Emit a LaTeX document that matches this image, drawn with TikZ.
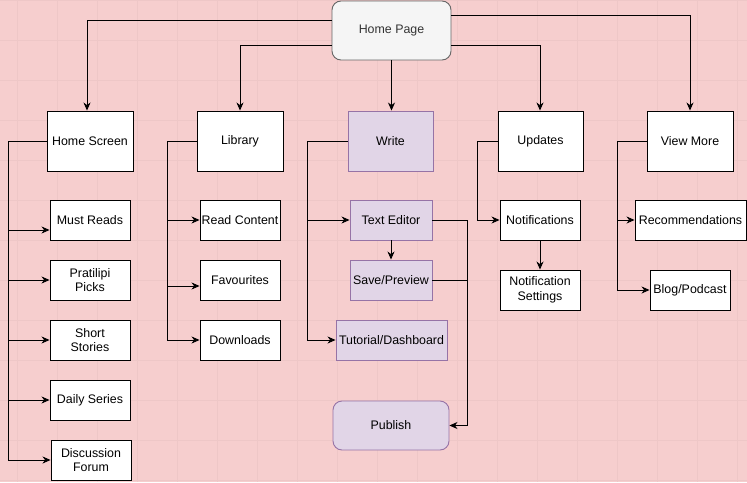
\documentclass[tikz,border=0pt]{standalone}
\usepackage{fontspec}
\setmainfont{Liberation Sans}
\usetikzlibrary{arrows.meta,calc}
\definecolor{bgpink}{RGB}{246,206,206}
\definecolor{gridpink}{RGB}{238,199,199}
\definecolor{hpfill}{HTML}{F5F5F5}
\definecolor{hpline}{HTML}{666666}
\definecolor{hptext}{HTML}{333333}
\definecolor{wfill}{HTML}{E1D5E7}
\definecolor{wline}{HTML}{9673A6}
\tikzset{
  box/.style={draw=black, fill=white, line width=0.9pt, inner sep=1pt, align=center,
    font=\fontsize{12.4}{14.5}\selectfont},
  wbox/.style={box, draw=wline, fill=wfill},
  arr/.style={draw=black, line width=0.9pt, -{Stealth[length=8pt,width=7pt,inset=2.5pt]}},
  ln/.style={draw=black, line width=0.9pt},
}
\newcommand{\bx}[6]{% name, x1, y1, x2, y2, style
  \node[#6, minimum width={(#4-#2)*1pt}, minimum height={(#5-#3)*1pt}] (#1) at ({(#2+#4)/2},{(#3+#5)/2})}
\begin{document}
\begin{tikzpicture}[x=1pt,y=-1pt]
\useasboundingbox (0,0) rectangle (747,482);
\fill[bgpink] (0,0) rectangle (747,482);
\foreach \gx in {17,57,...,737} \draw[gridpink, line width=1pt] (\gx,0) -- (\gx,482);
\foreach \gy in {0.5,40.5,...,480.5} \draw[gridpink, line width=1pt] (0,\gy) -- (747,\gy);

% top
\bx{hp}{332}{1}{451}{60}{box, draw=hpline, fill=hpfill, rounded corners=9pt, text=hptext}{Home Page};
% level 1
\bx{hs}{47}{111}{133}{171}{box}{Home Screen};
\bx{lib}{197}{111}{283}{171}{box}{Library};
\bx{wr}{348}{111}{433}{171}{wbox}{Write};
\bx{up}{498}{111}{583}{171}{box}{Updates};
\bx{vm}{647}{111}{733}{171}{box}{View More};
% home screen children
\bx{mr}{50}{200}{130}{240}{box}{Must Reads};
\bx{pp}{50}{260}{130}{300}{box}{Pratilipi\\Picks};
\bx{ss}{50}{320}{130}{360}{box}{Short\\Stories};
\bx{ds}{50}{380}{130}{420}{box}{Daily Series};
\bx{df}{51}{440}{131}{480}{box}{Discussion\\Forum};
% library children
\bx{rc}{200}{200}{280}{240}{box}{Read Content};
\bx{fav}{200}{260}{280}{300}{box}{Favourites};
\bx{dl}{200}{320}{280}{360}{box}{Downloads};
% write children
\bx{te}{350}{200}{432}{240}{wbox}{Text Editor};
\bx{sp}{350}{260}{432}{300}{wbox}{Save/Preview};
\bx{td}{336}{320}{447}{360}{wbox}{Tutorial/Dashboard};
\bx{pub}{333}{401}{449}{450}{wbox, rounded corners=9pt}{Publish};
% updates children
\bx{nt}{500}{200}{580}{240}{box}{Notifications};
\bx{ns}{500}{270}{580}{310}{box}{Notification\\Settings};
% view more children
\bx{rec}{635}{200}{746}{240}{box}{Recommendations};
\bx{bp}{650}{270}{730}{310}{box}{Blog/Podcast};

% top connectors
\draw[arr] ([yshift=10.5pt]hp.west) -| ([xshift=-3pt]hs.north);
\draw[arr] ([yshift=-14.5pt]hp.west) -| (lib.north);
\draw[arr] (hp.south) -- (hp.south |- wr.north);
\draw[arr] ([yshift=-14.5pt]hp.east) -| ([xshift=-0.5pt]up.north);
\draw[arr] ([yshift=15.5pt]hp.east) -| (vm.north);

% home screen branch
\coordinate (hsT) at (8,141);
\draw[arr] (hs.west) -- (hsT) |- ([yshift=-10pt]mr.west);
\draw[arr] (hs.west) -- (hsT) |- (pp.west);
\draw[arr] (hs.west) -- (hsT) |- (ss.west);
\draw[arr] (hs.west) -- (hsT) |- (ds.west);
\draw[arr] (hs.west) -- (hsT) |- (df.west);

% library branch
\coordinate (libT) at (167,141);
\draw[arr] (lib.west) -- (libT) |- (rc.west);
\draw[arr] (lib.west) -- (libT) |- ([yshift=-6pt]fav.west);
\draw[arr] (lib.west) -- (libT) |- (dl.west);

% write branch
\coordinate (wrT) at (307,141);
\draw[arr] (wr.west) -- (wrT) |- (te.west);
\draw[arr] (wr.west) -- (wrT) |- (td.west);
\draw[arr] (te.south) -- (sp.north);
\coordinate (pj) at (467,0);
\draw[arr] (te.east) -- (te.east -| pj) |- (pub.east);
\draw[ln] (sp.east) -- (sp.east -| pj);

% updates branch
\coordinate (upT) at (477,141);
\draw[arr] (up.west) -- (upT) |- (nt.west);
\draw[arr] (nt.south) -- (ns.north);

% view more branch
\coordinate (vmT) at (617,141);
\draw[arr] (vm.west) -- (vmT) |- (rec.west);
\draw[arr] (vm.west) -- (vmT) |- (bp.west);
\end{tikzpicture}
\end{document}
